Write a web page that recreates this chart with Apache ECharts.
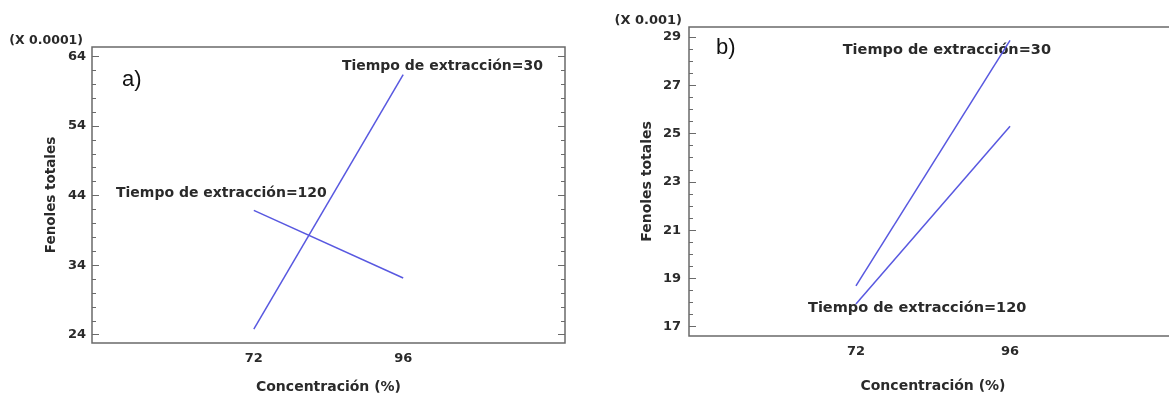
<!DOCTYPE html>
<html>
<head>
<meta charset="utf-8">
<script src="https://cdn.jsdelivr.net/npm/echarts@6/dist/echarts.min.js"></script>
<style>
html,body{margin:0;padding:0;background:#fff;}
#chart{width:1169px;height:403px;}
</style>
</head>
<body>
<div id="chart"></div>
<script>
// ---- data ----
const concentration = [72, 96];
const seriesNames = ['Tiempo de extracción=30', 'Tiempo de extracción=120'];
// panel a) values in units of 0.0001
const a_t30  = [24.82, 61.37];
const a_t120 = [41.87, 32.15];
// panel b) values in units of 0.001
const b_t30  = [18.69, 28.86];
const b_t120 = [17.94, 25.30];
// tick labels
const xTickLabels = [72, 96];
const aYTicks = [24, 34, 44, 54, 64];
const bYTicks = [17, 19, 21, 23, 25, 27, 29];
const aScale = '(X 0.0001)';
const bScale = '(X 0.001)';
const yName = 'Fenoles totales';
const xName = 'Concentración (%)';

function range(a, b, step) { const r = []; for (let v = a; v <= b + 1e-9; v += step) r.push(+v.toFixed(4)); return r; }
const aMinor = range(24, 64, 2);
const bMinor = range(17, 29, 0.5);

const FONT = 'DejaVu Sans';
const TXT = '#2a2a2a';
const FRAME = '#6a6a6a';
const LINE = '#5858e0';

function pairs(xs, ys) { return xs.map((x, i) => [x, ys[i]]); }

function yAxes(gridIndex, min, max, major, minor, labelMargin, nameGap, nameSize) {
  const base = { type: 'value', gridIndex, min, max, splitLine: { show: false }, axisLine: { show: false } };
  return [
    Object.assign({}, base, {
      position: 'left',
      name: yName, nameLocation: 'middle', nameRotate: 90, nameGap,
      nameTextStyle: { fontFamily: FONT, fontWeight: 'bold', fontSize: nameSize, color: TXT },
      axisTick: { show: true, inside: true, length: 7, customValues: major, lineStyle: { color: FRAME, width: 1 } },
      axisLabel: { show: true, customValues: major, margin: labelMargin, fontFamily: FONT, fontWeight: 'bold', fontSize: 13, color: TXT }
    }),
    Object.assign({}, base, {
      position: 'left',
      axisTick: { show: true, inside: true, length: 4, customValues: minor, lineStyle: { color: FRAME, width: 1 } },
      axisLabel: { show: false }
    }),
    Object.assign({}, base, {
      position: 'right',
      axisTick: { show: true, inside: true, length: 7, customValues: major, lineStyle: { color: FRAME, width: 1 } },
      axisLabel: { show: false }
    }),
    Object.assign({}, base, {
      position: 'right',
      axisTick: { show: true, inside: true, length: 4, customValues: minor, lineStyle: { color: FRAME, width: 1 } },
      axisLabel: { show: false }
    })
  ];
}

function xAxis(gridIndex, labelMargin, nameGap, nameSize) {
  return {
    type: 'value', gridIndex, min: 46, max: 122, position: 'bottom',
    splitLine: { show: false }, axisLine: { show: false }, axisTick: { show: false },
    axisLabel: { show: true, customValues: xTickLabels, margin: labelMargin, fontFamily: FONT, fontWeight: 'bold', fontSize: 13, color: TXT },
    name: xName, nameLocation: 'middle', nameGap,
    nameTextStyle: { fontFamily: FONT, fontWeight: 'bold', fontSize: nameSize, color: TXT }
  };
}

function lineSeries(xi, yi, ys) {
  return {
    type: 'line', xAxisIndex: xi, yAxisIndex: yi, data: pairs(concentration, ys),
    symbol: 'none', silent: true, animation: false,
    lineStyle: { color: LINE, width: 1.5 }
  };
}

function txt(x, y, text, opts) {
  return {
    type: 'text', x, y, silent: true,
    style: Object.assign({ text, fill: TXT, font: 'bold 14px "DejaVu Sans"', align: 'left', verticalAlign: 'middle' }, opts || {})
  };
}

const chart = echarts.init(document.getElementById('chart'), null, { renderer: 'canvas' });
chart.setOption({
  animation: false,
  backgroundColor: '#ffffff',
  grid: [
    { left: 92, top: 47, width: 473, height: 296, show: true, borderColor: FRAME, borderWidth: 1.5, backgroundColor: 'transparent', outerBoundsMode: 'none', containLabel: false },
    { left: 689, top: 27, width: 488, height: 309, show: true, borderColor: FRAME, borderWidth: 1.5, backgroundColor: 'transparent', outerBoundsMode: 'none', containLabel: false }
  ],
  xAxis: [ xAxis(0, 9, 37, 14), xAxis(1, 9, 43, 14) ],
  yAxis: [].concat(
    yAxes(0, 22.81, 65.35, aYTicks, aMinor, 6, 34, 13.5),
    yAxes(1, 16.614, 29.415, bYTicks, bMinor, 8, 35, 14)
  ),
  series: [
    lineSeries(0, 0, a_t30),
    lineSeries(0, 0, a_t120),
    lineSeries(1, 4, b_t30),
    lineSeries(1, 4, b_t120)
  ],
  graphic: [
    txt(83, 41, aScale, { align: 'right', font: 'bold 12.5px "DejaVu Sans"' }),
    txt(682, 21, bScale, { align: 'right', font: 'bold 13px "DejaVu Sans"' }),
    txt(122, 80, 'a)', { font: '22px "Liberation Sans"', fill: '#111' }),
    txt(716, 48, 'b)', { font: '22px "Liberation Sans"', fill: '#111' }),
    txt(543, 66, seriesNames[0], { align: 'right' }),
    txt(116, 193, seriesNames[1]),
    txt(1051, 50, seriesNames[0], { align: 'right', font: 'bold 14.5px "DejaVu Sans"' }),
    txt(808, 308, seriesNames[1], { font: 'bold 14.5px "DejaVu Sans"' })
  ]
});
</script>
</body>
</html>
